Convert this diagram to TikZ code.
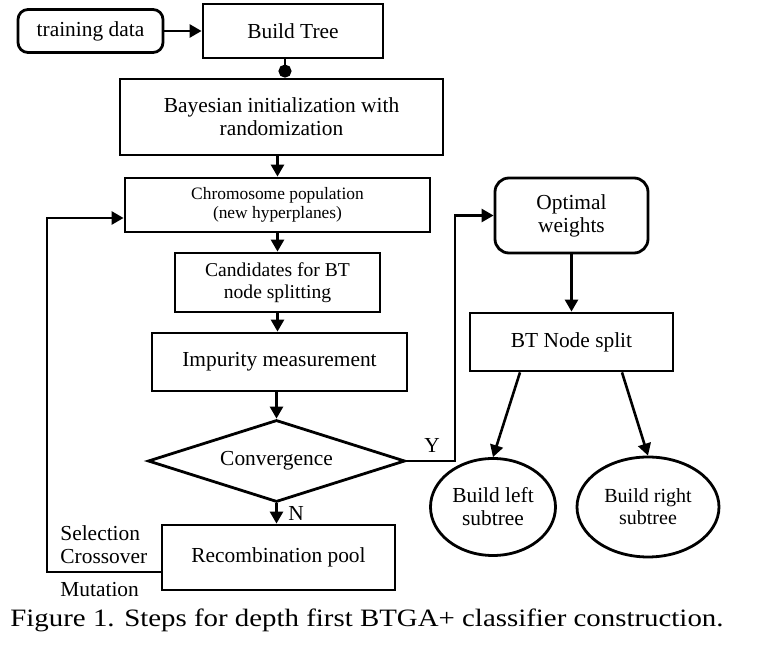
\documentclass[tikz,border=0pt]{standalone}
\usepackage{fontspec}
\setmainfont{Liberation Serif}
\usetikzlibrary{arrows.meta,shapes.geometric}
\begin{document}
\begin{tikzpicture}[x=0.5pt,y=-0.5pt,
  box/.style={draw,line width=1.4pt,align=center,inner sep=0pt,font=\fontsize{10.7}{11.5}\selectfont},
  rbox/.style={box,rounded corners=6pt},
  ell/.style={box,ellipse},
  dia/.style={box,diamond,shape aspect=3.13},
  lbl/.style={inner sep=0pt,font=\fontsize{10.7}{12}\selectfont},
  arr/.style={line width=1.3pt,-{Triangle[length=6pt,width=6.5pt]}},
  fb/.style={line width=1.3pt},
  dotline/.style={line width=1.3pt,-{Circle[length=6.5pt]}}]
\useasboundingbox (0,0) rectangle (757,663);

\node[rbox,rounded corners=5pt,minimum width=72.5pt,minimum height=21.5pt] (td) at (90.5,31) {training data};
\node[box,minimum width=90pt,minimum height=27pt] (bt) at (293,31) {Build Tree};
\node[box,minimum width=161.5pt,minimum height=38pt] (bay) at (281.5,117) {Bayesian initialization with\\randomization};
\node[box,minimum width=152.5pt,minimum height=27pt,font=\fontsize{8.7}{9.5}\selectfont] (chr) at (277.5,205) {Chromosome population\\(new hyperplanes)};
\node[box,minimum width=102.5pt,minimum height=29.5pt,font=\fontsize{9.8}{11}\selectfont] (cand) at (277.5,282.5) {Candidates for BT\\node splitting};
\node[box,minimum width=127.5pt,minimum height=29pt] (imp) at (279.5,362) {Impurity measurement};
\node[dia,minimum width=128.5pt,minimum height=41pt] (conv) at (276.5,461) {Convergence};
\node[box,minimum width=116.5pt,minimum height=32.5pt] (rec) at (278.5,557.5) {Recombination pool};

\node[rbox,rounded corners=7pt,minimum width=76.5pt,minimum height=37.5pt] (opt) at (571.5,215.5) {Optimal\\weights};
\node[box,minimum width=101.5pt,minimum height=29pt] (bts) at (571.5,342) {BT Node split};
\node[ell,minimum width=62.5pt,minimum height=48.5pt] (bl) at (493,507) {Build left\\subtree};
\node[ell,minimum width=71pt,minimum height=50pt,font=\fontsize{10}{11}\selectfont] (br) at (648,507) {Build right\\subtree};

\node[lbl] (ylab) at (432,445) {Y};
\node[lbl] (nlab) at (296,513) {N};
\node[lbl,anchor=west] (sel) at (60,533) {Selection};
\node[lbl,anchor=west] (cro) at (60,557) {Crossover};
\node[lbl,anchor=west] (mut) at (60,590) {Mutation};

\node[inner sep=0pt,anchor=base west,font=\fontsize{12.5}{14}\selectfont] (cap) at (10,627) {\scalebox{1.155}[1]{Figure 1. Steps for depth first BTGA+ classifier construction.}};

\coordinate (yx) at (455,0);
\coordinate (fb1) at (47,572);
\coordinate (fb2) at (47,218);

\draw[arr] (td) -- (bt);
\draw[dotline] ([xshift=-4pt]bt.south) -- ([xshift=-4pt]bt.south |- bay.north);
\draw[arr] (chr.north |- bay.south) -- (chr.north);
\draw[arr] (chr.south) -- (cand.north);
\draw[arr] (cand.south) -- (cand.south |- imp.north);
\draw[arr] (conv.north |- imp.south) -- (conv.north);
\draw[arr] (conv.south) -- (conv.south |- rec.north);
\draw[arr] (conv.east) -- (conv.east -| yx) -- (opt.west -| yx) -- (opt.west);
\draw[arr] (rec.west |- fb1) -- (fb1) -- (fb2) -- (chr.west |- fb2);
\draw[arr] (opt.south) -- (bts.north);
\draw[arr] ([xshift=-25.75pt]bts.south) -- (bl.north);
\draw[arr] ([xshift=25.25pt]bts.south) -- (br.north);
\end{tikzpicture}
\end{document}
